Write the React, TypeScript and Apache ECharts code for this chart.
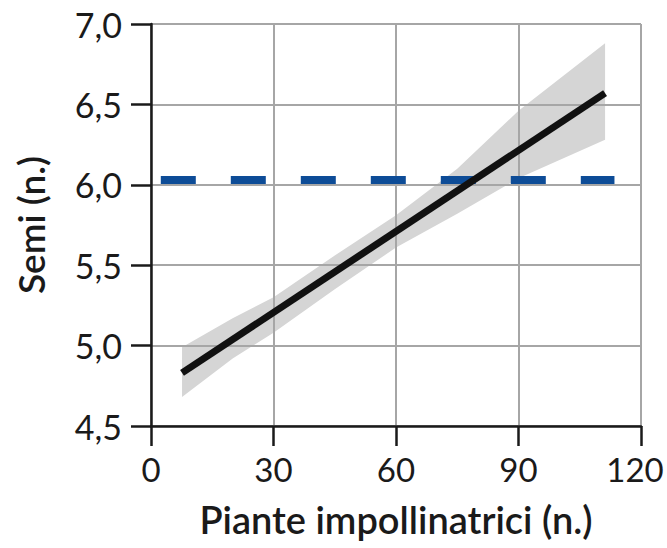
import React, { useEffect, useRef } from "react";
import * as echarts from "echarts";

const xTicks = [0, 30, 60, 90, 120];
const yTicks = [4.5, 5.0, 5.5, 6.0, 6.5, 7.0];

const fitX = [7.6, 111.2];
const fitY = [4.83, 6.57];

const bandX = [7.6, 20, 30, 45, 60, 75, 90, 111.2];
const bandLower = [4.68, 4.92, 5.08, 5.35, 5.61, 5.82, 6.04, 6.28];
const bandUpper = [4.99, 5.17, 5.3, 5.56, 5.81, 6.1, 6.46, 6.88];

const refX = [2.4, 113.5];
const refY = [6.03, 6.03];

const FONT = "Lato, 'Noto Sans', sans-serif";

export default function App() {
  const ref = useRef<HTMLDivElement>(null);
  useEffect(() => {
    if (!ref.current) return;
    document.body.style.margin = "0";
    const chart = echarts.init(ref.current, undefined, {
      renderer: "svg",
      width: 667,
      height: 548,
    });
    const fmt = (v: number) => v.toFixed(1).replace(".", ",");
    const xMax = xTicks[xTicks.length - 1];
    const labelStyle = { fontFamily: FONT, fontSize: 33, color: "#1a1a1a" };
    const bandPoints = [
      ...bandX.map((x, i) => [x, bandUpper[i]]),
      ...bandX.map((x, i) => [x, bandLower[i]]).reverse(),
    ];
    chart.setOption({
      animation: false,
      backgroundColor: "#ffffff",
      grid: {
        left: 151,
        right: 26,
        top: 24,
        bottom: 122,
        containLabel: false,
        outerBoundsMode: "none",
      },
      xAxis: {
        type: "value",
        min: xTicks[0],
        max: xMax,
        interval: 30,
        name: "Piante impollinatrici (n.)",
        nameLocation: "middle",
        nameGap: 74,
        nameTextStyle: { fontFamily: FONT, fontSize: 38, fontWeight: 600, color: "#1a1a1a" },
        axisLine: { show: true, lineStyle: { color: "#1a1a1a", width: 2.5 } },
        axisTick: { show: true, length: 20, lineStyle: { color: "#1a1a1a", width: 2.5 } },
        axisLabel: {
          ...labelStyle,
          margin: 26,
          hideOverlap: false,
          formatter: (v: number) => (v === xMax ? `{last|${v}}` : `${v}`),
          rich: { last: { ...labelStyle, padding: [0, 12, 0, 0] } },
        },
        splitLine: { show: true, lineStyle: { color: "#a6a6a6", width: 2 } },
      },
      yAxis: {
        type: "value",
        min: yTicks[0],
        max: yTicks[yTicks.length - 1],
        interval: 0.5,
        name: "Semi (n.)",
        nameLocation: "middle",
        nameGap: 102,
        nameTextStyle: { fontFamily: FONT, fontSize: 37, fontWeight: 600, color: "#1a1a1a" },
        axisLine: { show: true, lineStyle: { color: "#1a1a1a", width: 2.5 } },
        axisTick: { show: true, length: 20, lineStyle: { color: "#1a1a1a", width: 2.5 } },
        axisLabel: { fontFamily: FONT, fontSize: 34, color: "#1a1a1a", margin: 29, formatter: fmt },
        splitLine: { show: true, lineStyle: { color: "#a6a6a6", width: 2 } },
      },
      series: [
        {
          type: "custom",
          z: -1,
          silent: true,
          data: [[bandX[0], bandLower[0]]],
          renderItem: (_params: any, api: any) => ({
            type: "polygon",
            shape: { points: bandPoints.map((p) => api.coord(p)) },
            style: { fill: "#d5d5d5", stroke: "none" },
          }),
        },
        {
          type: "line",
          z: 3,
          symbol: "none",
          lineStyle: { color: "#0d4c97", width: 8, type: [35, 35], cap: "butt" },
          data: refX.map((x, i) => [x, refY[i]]),
        },
        {
          type: "line",
          z: 4,
          symbol: "none",
          lineStyle: { color: "#111111", width: 7, cap: "butt" },
          data: fitX.map((x, i) => [x, fitY[i]]),
        },
      ],
    });
    return () => chart.dispose();
  }, []);
  return (
    <div
      ref={ref}
      style={{ position: "fixed", left: 0, top: 0, width: 667, height: 548 }}
    />
  );
}
